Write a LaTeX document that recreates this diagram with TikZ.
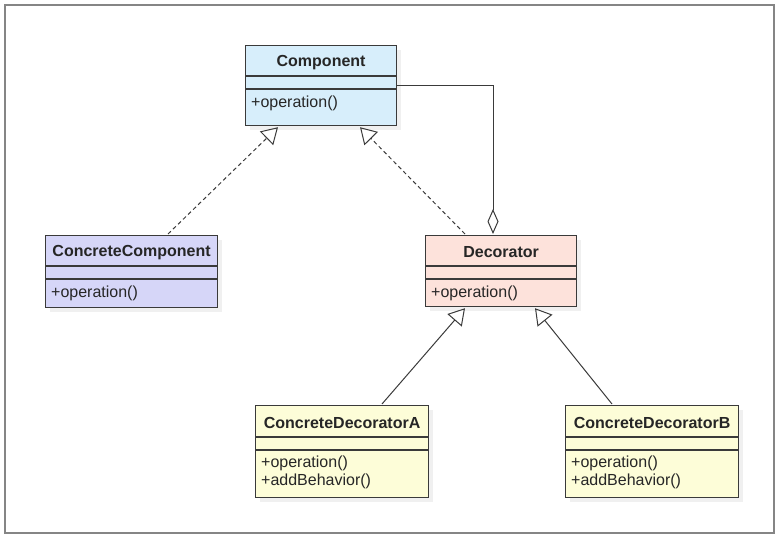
\documentclass[tikz,border=0pt]{standalone}
\usepackage{fontspec}
\setmainfont{Liberation Sans}
\usetikzlibrary{arrows.meta,calc}
\definecolor{cblue}{HTML}{D7EEFB}
\definecolor{cviolet}{HTML}{D6D6F8}
\definecolor{cpink}{HTML}{FDE2DB}
\definecolor{cyellow}{HTML}{FDFDD8}
\definecolor{cline}{HTML}{3A3A3A}
\definecolor{cframe}{HTML}{858585}
\tikzset{
  classbox/.style={draw=cline, line width=1.2pt, inner sep=0pt, anchor=north west},
  shadowbox/.style={fill=black!6, draw=none},
  titletext/.style={font=\fontsize{16}{18}\selectfont\bfseries, text=black!85, inner sep=0pt},
  optext/.style={font=\fontsize{16}{18}\selectfont, text=black!85, inner sep=0pt, anchor=west, align=left},
  divider/.style={draw=cline, line width=1.2pt},
  realize/.style={draw=cline, line width=1pt, dash pattern=on 4pt off 3pt, -{Triangle[open, length=16pt, width=19pt, line width=1pt]}},
  inherit/.style={draw=cline, line width=1pt, -{Triangle[open, length=16pt, width=19pt, line width=1pt]}},
  aggreg/.style={draw=cline, line width=1pt, -{Diamond[open, length=25pt, width=11pt, line width=1pt]}}
}
\begin{document}
\begin{tikzpicture}[x=1pt, y=-1pt]
\useasboundingbox (0,0) rectangle (779,538);
\draw[cframe, line width=2pt] (5,5) rectangle (774,533);

% shadows
\fill[shadowbox] (250,50) rectangle (401,130);
\fill[shadowbox] (50,240) rectangle (222,312);
\fill[shadowbox] (430,240) rectangle (581,311);
\fill[shadowbox] (260,410) rectangle (433,502);
\fill[shadowbox] (570,410) rectangle (743,502);

% Component
\node[classbox, fill=cblue, minimum width=151pt, minimum height=80pt] (comp) at (245,45) {};
\draw[divider] ($(comp.north west)+(0,31)$) -- ($(comp.north east)+(0,31)$);
\draw[divider] ($(comp.north west)+(0,44)$) -- ($(comp.north east)+(0,44)$);
\node[titletext] (compt) at ($(comp.north)+(0,17.5)$) {Component};
\node[optext] (compo) at ($(comp.north west)+(6,58.5)$) {+operation()};

% ConcreteComponent
\node[classbox, fill=cviolet, minimum width=172pt, minimum height=72pt] (cc) at (45,235) {};
\draw[divider] ($(cc.north west)+(0,31)$) -- ($(cc.north east)+(0,31)$);
\draw[divider] ($(cc.north west)+(0,44)$) -- ($(cc.north east)+(0,44)$);
\node[titletext] (cct) at ($(cc.north)+(0,17.5)$) {ConcreteComponent};
\node[optext] (cco) at ($(cc.north west)+(6,58.5)$) {+operation()};

% Decorator
\node[classbox, fill=cpink, minimum width=151pt, minimum height=71pt] (dec) at (425,235) {};
\draw[divider] ($(dec.north west)+(0,31)$) -- ($(dec.north east)+(0,31)$);
\draw[divider] ($(dec.north west)+(0,44)$) -- ($(dec.north east)+(0,44)$);
\node[titletext] (dect) at ($(dec.north)+(0,17.5)$) {Decorator};
\node[optext] (deco) at ($(dec.north west)+(6,58.5)$) {+operation()};

% ConcreteDecoratorA
\node[classbox, fill=cyellow, minimum width=173pt, minimum height=92pt] (cda) at (255,405) {};
\draw[divider] ($(cda.north west)+(0,32)$) -- ($(cda.north east)+(0,32)$);
\draw[divider] ($(cda.north west)+(0,45)$) -- ($(cda.north east)+(0,45)$);
\node[titletext] (cdat) at ($(cda.north)+(0,18)$) {ConcreteDecoratorA};
\node[optext] (cdao) at ($(cda.north west)+(6,67.5)$) {+operation()\\+addBehavior()};

% ConcreteDecoratorB
\node[classbox, fill=cyellow, minimum width=173pt, minimum height=92pt] (cdb) at (565,405) {};
\draw[divider] ($(cdb.north west)+(0,32)$) -- ($(cdb.north east)+(0,32)$);
\draw[divider] ($(cdb.north west)+(0,45)$) -- ($(cdb.north east)+(0,45)$);
\node[titletext] (cdbt) at ($(cdb.north)+(0,18)$) {ConcreteDecoratorB};
\node[optext] (cdbo) at ($(cdb.north west)+(6,67.5)$) {+operation()\\+addBehavior()};

% connectors
\draw[realize] ($(cc.north west)+(123,-1)$) -- ($(comp.south west)+(33,1)$);
\draw[realize] ($(dec.north west)+(40,-1)$) -- ($(comp.south west)+(115,1)$);
\draw[aggreg] ($(comp.north east)+(0,40)$) -| ($(dec.north west)+(68,-1)$);
\draw[inherit] ($(cda.north west)+(127,-1)$) -- ($(dec.south west)+(40,1)$);
\draw[inherit] ($(cdb.north west)+(47,-1)$) -- ($(dec.south west)+(110,1)$);
\end{tikzpicture}
\end{document}
